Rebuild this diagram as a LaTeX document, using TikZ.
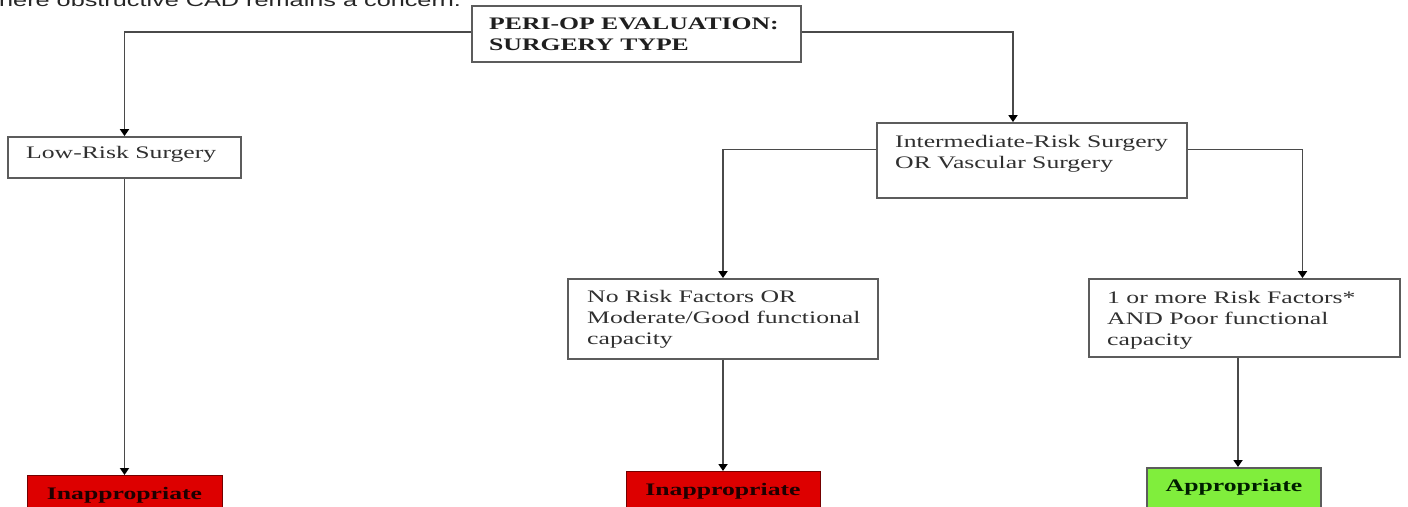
\documentclass[tikz,border=0pt]{standalone}
\usepackage{fontspec}
\usetikzlibrary{arrows.meta,calc}
\newfontfamily\tnr[FakeStretch=1.46]{Liberation Serif}
\newfontfamily\ars[FakeStretch=1.46]{Liberation Sans}
\definecolor{boxline}{HTML}{5C5C5C}
\definecolor{connline}{HTML}{4A4A4A}
\definecolor{txtgray}{HTML}{303030}
\definecolor{redfill}{HTML}{DD0000}
\definecolor{greenfill}{HTML}{80EE3C}
\begin{document}
\begin{tikzpicture}[x=1pt,y=-1pt,
  box/.style={draw=boxline,line width=1.8pt,fill=white,rectangle,inner sep=0pt},
  lbl/.style={anchor=base west,inner sep=0pt,text=txtgray,font=\tnr\fontsize{17.6}{21}\selectfont},
  link/.style={draw=connline,line width=1.8pt,-{Triangle[width=9pt,length=7pt,color=black]}},
  redbox/.style={rectangle,inner sep=0pt,fill=redfill,draw=red!45!black,line width=1pt,text=red!12!black,font=\tnr\bfseries\fontsize{17.6}{21}\selectfont},
  greenbox/.style={rectangle,inner sep=0pt,fill=greenfill,draw=boxline,line width=1.5pt,text=green!12!black,font=\tnr\bfseries\fontsize{17.6}{21}\selectfont}]
\path[use as bounding box,fill=white] (0,0) rectangle (1408,506);
\clip (0,0) rectangle (1408,506);

% cut-off line of text above the chart
\node[anchor=base west,inner sep=0pt,text=black!85,font=\ars\fontsize{17.3}{20}\selectfont] (note) at (-1,6) {here obstructive CAD remains a concern.};

% boxes
\node[box,minimum width=329pt,minimum height=56pt] (top) at (636.5,34) {};
\node[box,minimum width=233pt,minimum height=41pt] (low) at (124.5,157.5) {};
\node[box,minimum width=310pt,minimum height=75pt] (inter) at (1032,160.5) {};
\node[box,minimum width=310pt,minimum height=80pt] (norisk) at (723,319) {};
\node[box,minimum width=311pt,minimum height=78pt] (onemore) at (1244.5,318) {};

\node[redbox,minimum width=195pt,minimum height=40pt,anchor=north] (inap1) at (124.5,475) {Inappropriate};
\node[redbox,minimum width=194pt,minimum height=40pt,anchor=north] (inap2) at (723,471) {Inappropriate};
\node[greenbox,minimum width=174pt,minimum height=40pt,anchor=north] (appr) at (1234,467) {Appropriate};

% texts
\node[lbl,text=black!88] (toptext) at (489,29) {\parbox[t]{320pt}{\raggedright\bfseries PERI-OP EVALUATION:\\SURGERY TYPE}};
\node[lbl] (lowtext) at (26,158) {Low-Risk Surgery};
\node[lbl] (intertext) at (895,147) {\parbox[t]{290pt}{\raggedright Intermediate-Risk Surgery\\OR Vascular Surgery}};
\node[lbl] (norisktext) at (587,302) {\parbox[t]{290pt}{\raggedright No Risk Factors OR\\Moderate/Good functional\\capacity}};
\node[lbl] (onemoretext) at (1107,303) {\parbox[t]{290pt}{\raggedright 1 or more Risk Factors*\\AND Poor functional\\capacity}};

% connectors
\draw[link] ([yshift=2pt]top.west) -| (low.north);
\draw[link] ([yshift=2pt]top.east) -| ([xshift=-19pt]inter.north);
\draw[link] (low.south) -- (inap1.north);
\draw[link] ([yshift=11pt]inter.west) -| (norisk.north);
\draw[link] ([yshift=11pt]inter.east) -| ([xshift=58pt]onemore.north);
\draw[link] (norisk.south) -- (inap2.north);
\coordinate (omout) at ([xshift=-6.5pt]onemore.south);
\draw[link] (omout) -- (omout |- appr.north);
\end{tikzpicture}
\end{document}
